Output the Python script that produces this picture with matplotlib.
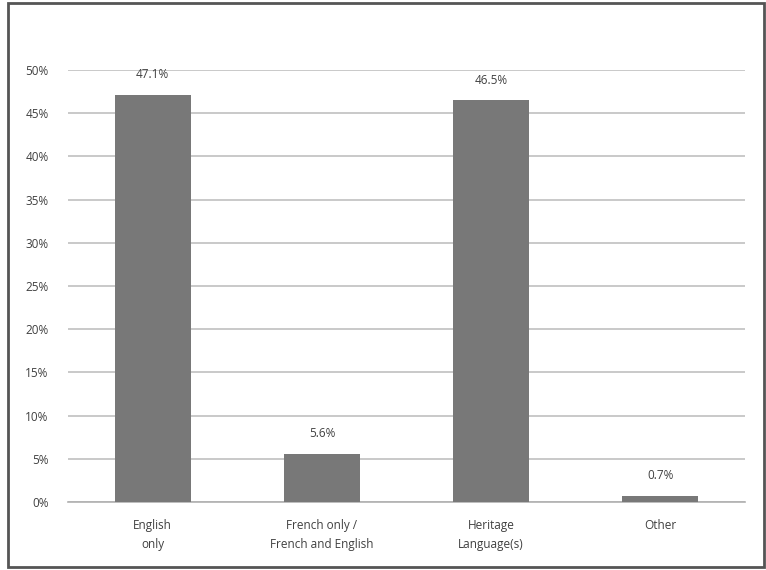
import matplotlib
matplotlib.use("Agg")
import matplotlib.pyplot as plt
from matplotlib.patches import Rectangle

# chart values
categories = ["English\nonly", "French only /\nFrench and English", "Heritage\nLanguage(s)", "Other"]
shares = [47.1, 5.6, 46.5, 0.7]
value_labels = ["47.1%", "5.6%", "46.5%", "0.7%"]
y_ticks = [0, 5, 10, 15, 20, 25, 30, 35, 40, 45, 50]

plt.rcParams['font.family'] = ['Open Sans', 'DejaVu Sans']

fig = plt.figure(figsize=(7.66, 5.7), dpi=100)
ax = fig.add_axes([0.0888, 0.1193, 0.8838, 0.7577])

x = list(range(len(categories)))
ax.bar(x, shares, width=0.45, color="#787878", zorder=3)

for xi, v, lab in zip(x, shares, value_labels):
    ax.text(xi, v + 1.6, lab, ha="center", va="bottom", fontsize=8.5, color="#404040")

ax.set_xlim(-0.5, len(categories) - 0.5)
ax.set_ylim(0, 50)
ax.set_yticks(y_ticks)
ax.set_yticklabels([f"{t}%" for t in y_ticks], fontsize=8.5, color="#404040")
ax.set_xticks(x)
ax.set_xticklabels(categories, fontsize=8.5, color="#404040", linespacing=1.6)
ax.tick_params(axis="both", length=0)
ax.tick_params(axis="y", pad=14)
ax.tick_params(axis="x", pad=12)

ax.grid(axis="y", color="#c0c0c0", linewidth=1.2, zorder=0)
for s in ["left", "right", "top"]:
    ax.spines[s].set_visible(False)
ax.spines["bottom"].set_color("#b0b0b0")
ax.spines["bottom"].set_linewidth(1.2)

# outer frame
fig.patches.append(Rectangle((8 / 766, 3 / 570), 756 / 766, 564 / 570,
                             transform=fig.transFigure, fill=False,
                             edgecolor="#555555", linewidth=2))

fig.savefig("out.png", dpi=100)
